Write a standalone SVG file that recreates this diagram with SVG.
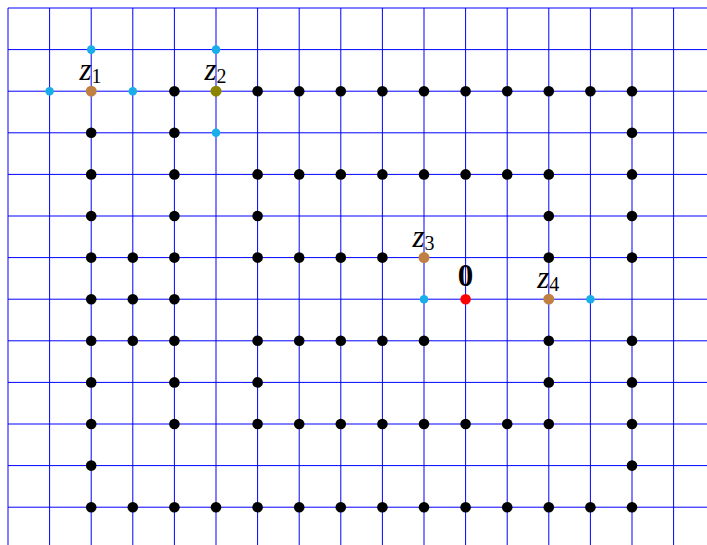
<svg xmlns="http://www.w3.org/2000/svg" width="707" height="545" viewBox="0 0 707 545">
<style>
.grid{stroke:#0000ff;stroke-width:1;fill:none}
.b{fill:#000}
.c{fill:#1aaee8}
.br{fill:#c08044}
.ol{fill:#8c8400}
.rd{fill:#ff0000}
.lbl{font-family:"Liberation Serif","DejaVu Serif",serif;fill:#000}
</style>
<rect width="707" height="545" fill="#fff"/>
<g id="grid" class="grid">
<path d="M8 8V545M49.6 8V545M91.2 8V545M132.8 8V545M174.4 8V545M216 8V545M257.6 8V545M299.2 8V545M340.8 8V545M382.4 8V545M424 8V545M465.6 8V545M507.2 8V545M548.8 8V545M590.4 8V545M632 8V545M673.6 8V545"/>
<path d="M8 8H707M8 49.6H707M8 91.2H707M8 132.8H707M8 174.4H707M8 216H707M8 257.6H707M8 299.2H707M8 340.8H707M8 382.4H707M8 424H707M8 465.6H707M8 507.2H707"/>
</g>
<g id="connectors"></g>
<g id="dots">
<g id="d4-2"><circle class="b" cx="174.4" cy="91.2" r="5.3"/></g>
<g id="d6-2"><circle class="b" cx="257.6" cy="91.2" r="5.3"/></g>
<g id="d7-2"><circle class="b" cx="299.2" cy="91.2" r="5.3"/></g>
<g id="d8-2"><circle class="b" cx="340.8" cy="91.2" r="5.3"/></g>
<g id="d9-2"><circle class="b" cx="382.4" cy="91.2" r="5.3"/></g>
<g id="d10-2"><circle class="b" cx="424" cy="91.2" r="5.3"/></g>
<g id="d11-2"><circle class="b" cx="465.6" cy="91.2" r="5.3"/></g>
<g id="d12-2"><circle class="b" cx="507.2" cy="91.2" r="5.3"/></g>
<g id="d13-2"><circle class="b" cx="548.8" cy="91.2" r="5.3"/></g>
<g id="d14-2"><circle class="b" cx="590.4" cy="91.2" r="5.3"/></g>
<g id="d15-2"><circle class="b" cx="632" cy="91.2" r="5.3"/></g>
<g id="d2-3"><circle class="b" cx="91.2" cy="132.8" r="5.3"/></g>
<g id="d4-3"><circle class="b" cx="174.4" cy="132.8" r="5.3"/></g>
<g id="d15-3"><circle class="b" cx="632" cy="132.8" r="5.3"/></g>
<g id="d2-4"><circle class="b" cx="91.2" cy="174.4" r="5.3"/></g>
<g id="d4-4"><circle class="b" cx="174.4" cy="174.4" r="5.3"/></g>
<g id="d6-4"><circle class="b" cx="257.6" cy="174.4" r="5.3"/></g>
<g id="d7-4"><circle class="b" cx="299.2" cy="174.4" r="5.3"/></g>
<g id="d8-4"><circle class="b" cx="340.8" cy="174.4" r="5.3"/></g>
<g id="d9-4"><circle class="b" cx="382.4" cy="174.4" r="5.3"/></g>
<g id="d10-4"><circle class="b" cx="424" cy="174.4" r="5.3"/></g>
<g id="d11-4"><circle class="b" cx="465.6" cy="174.4" r="5.3"/></g>
<g id="d12-4"><circle class="b" cx="507.2" cy="174.4" r="5.3"/></g>
<g id="d13-4"><circle class="b" cx="548.8" cy="174.4" r="5.3"/></g>
<g id="d15-4"><circle class="b" cx="632" cy="174.4" r="5.3"/></g>
<g id="d2-5"><circle class="b" cx="91.2" cy="216" r="5.3"/></g>
<g id="d4-5"><circle class="b" cx="174.4" cy="216" r="5.3"/></g>
<g id="d6-5"><circle class="b" cx="257.6" cy="216" r="5.3"/></g>
<g id="d13-5"><circle class="b" cx="548.8" cy="216" r="5.3"/></g>
<g id="d15-5"><circle class="b" cx="632" cy="216" r="5.3"/></g>
<g id="d2-6"><circle class="b" cx="91.2" cy="257.6" r="5.3"/></g>
<g id="d3-6"><circle class="b" cx="132.8" cy="257.6" r="5.3"/></g>
<g id="d4-6"><circle class="b" cx="174.4" cy="257.6" r="5.3"/></g>
<g id="d6-6"><circle class="b" cx="257.6" cy="257.6" r="5.3"/></g>
<g id="d7-6"><circle class="b" cx="299.2" cy="257.6" r="5.3"/></g>
<g id="d8-6"><circle class="b" cx="340.8" cy="257.6" r="5.3"/></g>
<g id="d9-6"><circle class="b" cx="382.4" cy="257.6" r="5.3"/></g>
<g id="d13-6"><circle class="b" cx="548.8" cy="257.6" r="5.3"/></g>
<g id="d15-6"><circle class="b" cx="632" cy="257.6" r="5.3"/></g>
<g id="d2-7"><circle class="b" cx="91.2" cy="299.2" r="5.3"/></g>
<g id="d3-7"><circle class="b" cx="132.8" cy="299.2" r="5.3"/></g>
<g id="d4-7"><circle class="b" cx="174.4" cy="299.2" r="5.3"/></g>
<g id="d2-8"><circle class="b" cx="91.2" cy="340.8" r="5.3"/></g>
<g id="d3-8"><circle class="b" cx="132.8" cy="340.8" r="5.3"/></g>
<g id="d4-8"><circle class="b" cx="174.4" cy="340.8" r="5.3"/></g>
<g id="d6-8"><circle class="b" cx="257.6" cy="340.8" r="5.3"/></g>
<g id="d7-8"><circle class="b" cx="299.2" cy="340.8" r="5.3"/></g>
<g id="d8-8"><circle class="b" cx="340.8" cy="340.8" r="5.3"/></g>
<g id="d9-8"><circle class="b" cx="382.4" cy="340.8" r="5.3"/></g>
<g id="d10-8"><circle class="b" cx="424" cy="340.8" r="5.3"/></g>
<g id="d13-8"><circle class="b" cx="548.8" cy="340.8" r="5.3"/></g>
<g id="d15-8"><circle class="b" cx="632" cy="340.8" r="5.3"/></g>
<g id="d2-9"><circle class="b" cx="91.2" cy="382.4" r="5.3"/></g>
<g id="d4-9"><circle class="b" cx="174.4" cy="382.4" r="5.3"/></g>
<g id="d6-9"><circle class="b" cx="257.6" cy="382.4" r="5.3"/></g>
<g id="d13-9"><circle class="b" cx="548.8" cy="382.4" r="5.3"/></g>
<g id="d15-9"><circle class="b" cx="632" cy="382.4" r="5.3"/></g>
<g id="d2-10"><circle class="b" cx="91.2" cy="424" r="5.3"/></g>
<g id="d4-10"><circle class="b" cx="174.4" cy="424" r="5.3"/></g>
<g id="d6-10"><circle class="b" cx="257.6" cy="424" r="5.3"/></g>
<g id="d7-10"><circle class="b" cx="299.2" cy="424" r="5.3"/></g>
<g id="d8-10"><circle class="b" cx="340.8" cy="424" r="5.3"/></g>
<g id="d9-10"><circle class="b" cx="382.4" cy="424" r="5.3"/></g>
<g id="d10-10"><circle class="b" cx="424" cy="424" r="5.3"/></g>
<g id="d11-10"><circle class="b" cx="465.6" cy="424" r="5.3"/></g>
<g id="d12-10"><circle class="b" cx="507.2" cy="424" r="5.3"/></g>
<g id="d13-10"><circle class="b" cx="548.8" cy="424" r="5.3"/></g>
<g id="d15-10"><circle class="b" cx="632" cy="424" r="5.3"/></g>
<g id="d2-11"><circle class="b" cx="91.2" cy="465.6" r="5.3"/></g>
<g id="d15-11"><circle class="b" cx="632" cy="465.6" r="5.3"/></g>
<g id="d2-12"><circle class="b" cx="91.2" cy="507.2" r="5.3"/></g>
<g id="d3-12"><circle class="b" cx="132.8" cy="507.2" r="5.3"/></g>
<g id="d4-12"><circle class="b" cx="174.4" cy="507.2" r="5.3"/></g>
<g id="d5-12"><circle class="b" cx="216" cy="507.2" r="5.3"/></g>
<g id="d6-12"><circle class="b" cx="257.6" cy="507.2" r="5.3"/></g>
<g id="d7-12"><circle class="b" cx="299.2" cy="507.2" r="5.3"/></g>
<g id="d8-12"><circle class="b" cx="340.8" cy="507.2" r="5.3"/></g>
<g id="d9-12"><circle class="b" cx="382.4" cy="507.2" r="5.3"/></g>
<g id="d10-12"><circle class="b" cx="424" cy="507.2" r="5.3"/></g>
<g id="d11-12"><circle class="b" cx="465.6" cy="507.2" r="5.3"/></g>
<g id="d12-12"><circle class="b" cx="507.2" cy="507.2" r="5.3"/></g>
<g id="d13-12"><circle class="b" cx="548.8" cy="507.2" r="5.3"/></g>
<g id="d14-12"><circle class="b" cx="590.4" cy="507.2" r="5.3"/></g>
<g id="d15-12"><circle class="b" cx="632" cy="507.2" r="5.3"/></g>
<g id="c2-1"><circle class="c" cx="91.2" cy="49.6" r="4.3"/></g>
<g id="c5-1"><circle class="c" cx="216" cy="49.6" r="4.3"/></g>
<g id="c1-2"><circle class="c" cx="49.6" cy="91.2" r="4.3"/></g>
<g id="c3-2"><circle class="c" cx="132.8" cy="91.2" r="4.3"/></g>
<g id="c5-3"><circle class="c" cx="216" cy="132.8" r="4.3"/></g>
<g id="c10-7"><circle class="c" cx="424" cy="299.2" r="4.3"/></g>
<g id="c14-7"><circle class="c" cx="590.4" cy="299.2" r="4.3"/></g>
</g>
<g id="z1">
<circle class="br" cx="91.2" cy="91.2" r="5.5"/>
<text class="lbl" x="90.5" y="80" text-anchor="middle" font-size="31"><tspan font-style="italic">z</tspan><tspan font-size="20" dy="3">1</tspan></text>
</g>
<g id="z2">
<circle class="ol" cx="216" cy="91.2" r="5.5"/>
<text class="lbl" x="215.5" y="80" text-anchor="middle" font-size="31"><tspan font-style="italic">z</tspan><tspan font-size="20" dy="3">2</tspan></text>
</g>
<g id="z3">
<circle class="br" cx="424" cy="257.6" r="5.5"/>
<text class="lbl" x="423.5" y="246.5" text-anchor="middle" font-size="31"><tspan font-style="italic">z</tspan><tspan font-size="20" dy="3">3</tspan></text>
</g>
<g id="z4">
<circle class="br" cx="548.8" cy="299.2" r="5.5"/>
<text class="lbl" x="548.3" y="288" text-anchor="middle" font-size="31"><tspan font-style="italic">z</tspan><tspan font-size="20" dy="3">4</tspan></text>
</g>
<g id="origin">
<circle class="rd" cx="465.6" cy="299.2" r="5.3"/>
<text class="lbl" x="465.6" y="286" text-anchor="middle" font-size="31" font-weight="bold">0</text>
</g>
</svg>
